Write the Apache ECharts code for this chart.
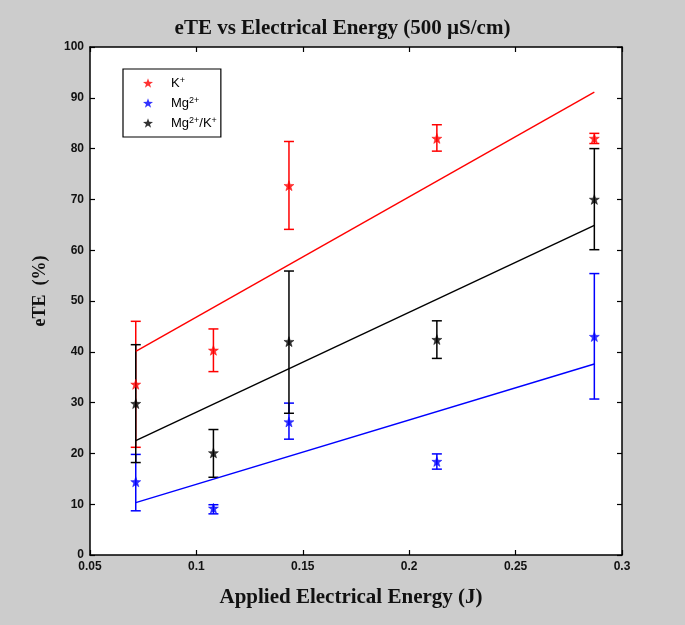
<!DOCTYPE html>
<html>
<head>
<meta charset="utf-8">
<script src="https://cdn.jsdelivr.net/npm/echarts@6/dist/echarts.min.js"></script>
<style>
html,body{margin:0;padding:0;background:#cccccc;}
#chart{width:685px;height:625px;}
</style>
</head>
<body>
<div id="chart"></div>
<script>
// Applied electrical energy (J) for each measurement column
const energy = [0.0715, 0.108, 0.1435, 0.213, 0.287];

// K+ eTE (%) : mean, upper and lower error bar ends
const kMean  = [33.6, 40.3, 72.7, 82.0, 82.0];
const kUpper = [46.0, 44.5, 81.4, 84.7, 83.0];
const kLower = [21.2, 36.1, 64.1, 79.5, 81.0];

// Mg2+ eTE (%)
const mgMean  = [14.4, 9.2, 26.2, 18.4, 43.0];
const mgUpper = [19.8, 9.9, 29.9, 19.9, 55.4];
const mgLower = [8.7, 8.1, 22.8, 16.9, 30.7];

// Mg2+/K+ eTE (%)
const mgkMean  = [29.8, 20.1, 42.0, 42.4, 70.0];
const mgkUpper = [41.4, 24.7, 55.9, 46.1, 80.0];
const mgkLower = [18.2, 15.3, 27.9, 38.7, 60.1];

// Linear fit lines: end points (x) and values read at the ends
const fitX   = [0.0715, 0.287];
const fitK   = [40.1, 91.1];
const fitMg  = [10.3, 37.6];
const fitMgK = [22.5, 64.9];

// Axis ticks
const xTicks = [0.05, 0.1, 0.15, 0.2, 0.25, 0.3];
const yTicks = [0, 10, 20, 30, 40, 50, 60, 70, 80, 90, 100];

const STAR = 'path://M0,-10L2.35,-3.24L9.51,-3.09L3.8,1.24L5.88,8.09L0,4L-5.88,8.09L-3.8,1.24L-9.51,-3.09L-2.35,-3.24Z';

function zip(xs, ys){ return xs.map((x,i)=>[x, ys[i]]); }
function errData(xs, lo, hi){ return xs.map((x,i)=>[x, lo[i], hi[i]]); }

function errorSeries(name, color, data){
  return {
    type: 'custom',
    name: name + '_err',
    data: data,
    z: 3,
    silent: true,
    encode: { x: 0, y: [1, 2] },
    renderItem: function(params, api){
      const x = api.value(0);
      const lo = api.coord([x, api.value(1)]);
      const hi = api.coord([x, api.value(2)]);
      const cap = 5;
      const st = { stroke: color, lineWidth: 1.5, fill: null };
      return {
        type: 'group',
        children: [
          { type: 'line', shape: { x1: lo[0], y1: lo[1], x2: hi[0], y2: hi[1] }, style: st },
          { type: 'line', shape: { x1: lo[0]-cap, y1: lo[1], x2: lo[0]+cap, y2: lo[1] }, style: st },
          { type: 'line', shape: { x1: hi[0]-cap, y1: hi[1], x2: hi[0]+cap, y2: hi[1] }, style: st }
        ]
      };
    }
  };
}

function starSeries(name, color, data){
  return {
    type: 'scatter', name: name, data: data, symbol: STAR, symbolSize: 10,
    itemStyle: { color: color, borderColor: color, borderWidth: 0.6 }, z: 5
  };
}

function fitSeries(name, color, ys){
  return {
    type: 'line', name: name + '_fit', data: zip(fitX, ys), showSymbol: false, symbol: 'none',
    lineStyle: { color: color, width: 1.4 }, z: 4, silent: true
  };
}

const axisTxt = { color: '#111', fontFamily: 'Liberation Sans, Arial', fontWeight: 'bold', fontSize: 12 };

const chart = echarts.init(document.getElementById('chart'), null, { renderer: 'canvas' });
chart.setOption({
  backgroundColor: '#cccccc',
  animation: false,
  title: {
    text: 'eTE vs Electrical Energy (500 µS/cm)',
    left: 'center', top: 18, padding: 0,
    textStyle: { fontFamily: 'Liberation Serif, Times New Roman', fontWeight: 'bold', fontSize: 21, color: '#111' }
  },
  graphic: [{
    type: 'text', x: 40, y: 291, rotation: Math.PI / 2,
    style: {
      text: 'eTE  (%)', fill: '#111',
      font: 'bold 18px "Liberation Serif", "Times New Roman"',
      textAlign: 'center', textVerticalAlign: 'middle'
    }
  }],
  legend: {
    orient: 'vertical', left: 123, top: 69,
    padding: [7, 4, 6, 20],
    itemGap: 5, itemWidth: 10, itemHeight: 10,
    itemStyle: { borderWidth: 0 },
    backgroundColor: '#ffffff', borderColor: '#000', borderWidth: 1.2, borderRadius: 0,
    data: [
      { name: 'K+', icon: STAR },
      { name: 'Mg2+', icon: STAR },
      { name: 'Mg2+/K+', icon: STAR }
    ],
    formatter: function(n){
      if (n === 'K+') return '{t|K}{s|+}';
      if (n === 'Mg2+') return '{t|Mg}{s|2+}';
      return '{t|Mg}{s|2+}{t|/K}{s|+}';
    },
    textStyle: {
      padding: [0, 0, 0, 13],
      rich: {
        t: { fontFamily: 'Liberation Sans, Arial', fontSize: 13, color: '#000', lineHeight: 14, verticalAlign: 'bottom' },
        s: { fontFamily: 'Liberation Sans, Arial', fontSize: 9, color: '#000', lineHeight: 14, verticalAlign: 'top', padding: [0,0,6,0] }
      }
    }
  },
  grid: { left: 90, right: 63, top: 47, bottom: 70, show: true, backgroundColor: '#ffffff', borderColor: '#000', borderWidth: 0 },
  xAxis: [{
    type: 'value', min: xTicks[0], max: xTicks[xTicks.length-1], interval: 0.05,
    position: 'bottom',
    name: 'Applied Electrical Energy (J)', nameLocation: 'middle', nameGap: 32,
    nameTextStyle: { fontFamily: 'Liberation Serif, Times New Roman', fontWeight: 'bold', fontSize: 21, color: '#111', padding: [0, 10, 0, 0] },
    axisLine: { onZero: false, lineStyle: { color: '#000', width: 1.5 } },
    axisTick: { inside: true, length: 5, lineStyle: { color: '#000', width: 1.2 } },
    axisLabel: Object.assign({ margin: 6 }, axisTxt),
    splitLine: { show: false }
  }, {
    type: 'value', min: xTicks[0], max: xTicks[xTicks.length-1], interval: 0.05,
    position: 'top',
    axisLine: { onZero: false, lineStyle: { color: '#000', width: 1.5 } },
    axisTick: { inside: true, length: 5, lineStyle: { color: '#000', width: 1.2 } },
    axisLabel: { show: false }, splitLine: { show: false }
  }],
  yAxis: [{
    type: 'value', min: yTicks[0], max: yTicks[yTicks.length-1], interval: 10,
    position: 'left',
    axisLine: { onZero: false, lineStyle: { color: '#000', width: 1.5 } },
    axisTick: { inside: true, length: 5, lineStyle: { color: '#000', width: 1.2 } },
    axisLabel: Object.assign({ margin: 6 }, axisTxt),
    splitLine: { show: false }
  }, {
    type: 'value', min: yTicks[0], max: yTicks[yTicks.length-1], interval: 10,
    position: 'right',
    axisLine: { onZero: false, lineStyle: { color: '#000', width: 1.5 } },
    axisTick: { inside: true, length: 5, lineStyle: { color: '#000', width: 1.2 } },
    axisLabel: { show: false }, splitLine: { show: false }
  }],
  series: [
    errorSeries('K+', '#ff0000', errData(energy, kLower, kUpper)),
    errorSeries('Mg2+', '#0000ff', errData(energy, mgLower, mgUpper)),
    errorSeries('Mg2+/K+', '#000000', errData(energy, mgkLower, mgkUpper)),
    fitSeries('K+', '#ff0000', fitK),
    fitSeries('Mg2+', '#0000ff', fitMg),
    fitSeries('Mg2+/K+', '#000000', fitMgK),
    starSeries('K+', '#ff0000', zip(energy, kMean)),
    starSeries('Mg2+', '#0000ff', zip(energy, mgMean)),
    starSeries('Mg2+/K+', '#000000', zip(energy, mgkMean))
  ]
});
</script>
</body>
</html>
